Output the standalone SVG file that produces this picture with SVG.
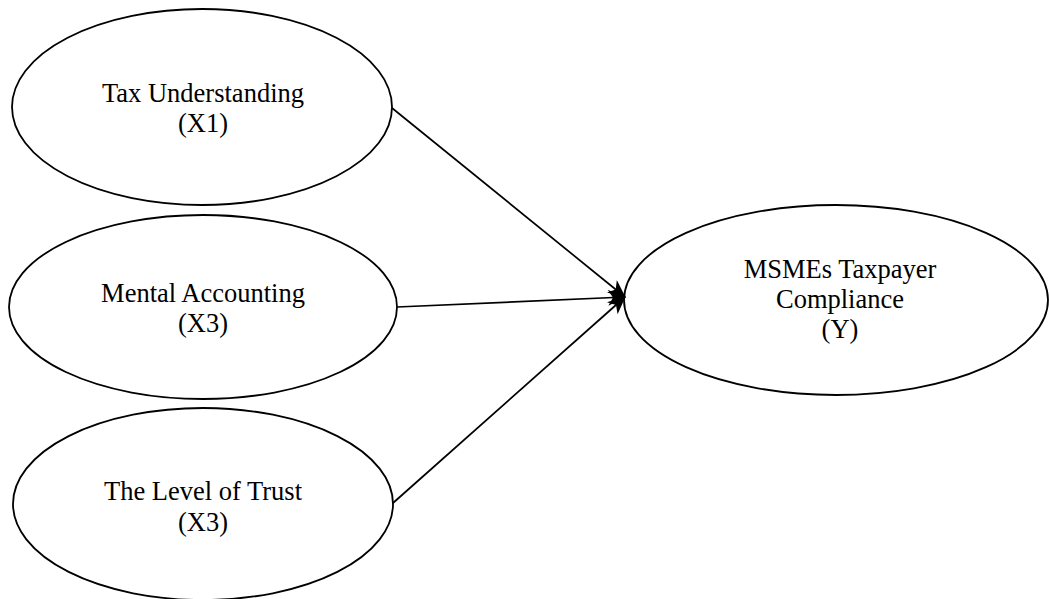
<svg xmlns="http://www.w3.org/2000/svg" width="1049" height="599" viewBox="0 0 1049 599">
<style>
.node{fill:#fff;stroke:#000;stroke-width:1.8}
.lbl{font-family:"Liberation Serif","Times New Roman",serif;font-size:26.5px;fill:#000;text-anchor:middle}
.edge{stroke:#000;stroke-width:1.7;fill:none}
</style>
<defs>
<marker id="ah" markerUnits="userSpaceOnUse" markerWidth="18" markerHeight="16" viewBox="0 0 18 16" refX="17" refY="8" orient="auto">
<path d="M0,0 L18,8 L0,16 L5,8 Z" fill="#000"/>
</marker>
</defs>
<rect width="1049" height="599" fill="#fff"/>
<g id="n1">
<ellipse class="node" cx="202" cy="107" rx="190" ry="98"/>
<text class="lbl" x="203" y="102">Tax Understanding</text>
<text class="lbl" x="203" y="132">(X1)</text>
</g>
<g id="n2">
<ellipse class="node" cx="203" cy="307" rx="194" ry="92"/>
<text class="lbl" x="203" y="302">Mental Accounting</text>
<text class="lbl" x="203" y="332">(X3)</text>
</g>
<g id="n3">
<ellipse class="node" cx="203" cy="504" rx="190" ry="96"/>
<text class="lbl" x="203" y="500">The Level of Trust</text>
<text class="lbl" x="203" y="531">(X3)</text>
</g>
<g id="n4">
<ellipse class="node" cx="836" cy="300" rx="212" ry="95"/>
<text class="lbl" x="840" y="278">MSMEs Taxpayer</text>
<text class="lbl" x="840" y="308">Compliance</text>
<text class="lbl" x="840" y="338">(Y)</text>
</g>
<g id="connectors">
<line class="edge" x1="392" y1="108" x2="625" y2="297" marker-end="url(#ah)"/>
<line class="edge" x1="397" y1="307" x2="625" y2="297" marker-end="url(#ah)"/>
<line class="edge" x1="393" y1="503" x2="625" y2="297" marker-end="url(#ah)"/>
</g>
</svg>
